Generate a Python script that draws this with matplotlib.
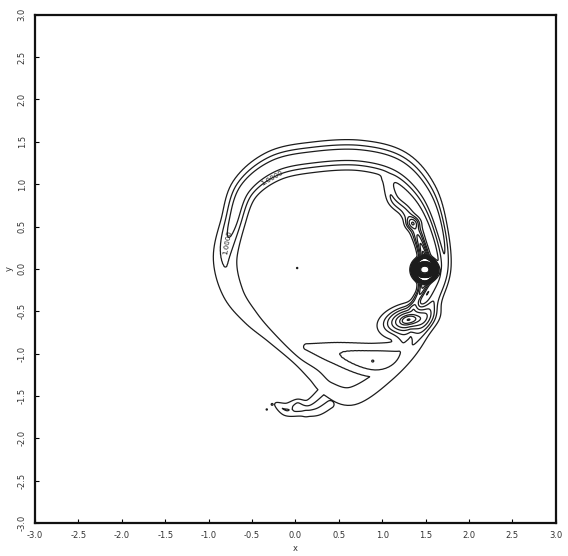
#!/usr/bin/env python3
"""Contour plot of a rolled-up filament with embedded vortices"""

import numpy as np
import matplotlib
matplotlib.use('Agg')
import matplotlib.pyplot as plt

# filament centreline (closed loop) with peak value and half-width along it
band_x = [0.66, 1.05, 1.37, 1.58, 1.72, 1.65, 1.48, 1.18, 0.74, 0.22,
          -0.24, -0.58, -0.72, -0.81, -0.72, -0.52, -0.27, 0.00, 0.21, 0.38]
band_y = [-1.50, -1.24, -0.87, -0.40, 0.00, 0.50, 0.92, 1.22, 1.34, 1.32,
          1.22, 0.95, 0.55, 0.11, -0.28, -0.57, -0.82, -1.07, -1.25, -1.42]
band_amp = [0.40, 0.40, 0.50, 0.70, 0.70, 1.00, 1.00, 1.00, 1.00, 1.00,
            1.00, 1.00, 0.95, 0.55, 0.40, 0.35, 0.30, 0.28, 0.32, 0.35]
band_w = [0.090, 0.080, 0.070, 0.055, 0.045, 0.055, 0.080, 0.100, 0.100, 0.100,
          0.100, 0.090, 0.080, 0.095, 0.100, 0.085, 0.063, 0.052, 0.073, 0.080]

# tongue stripped off the lower vortex
tongue_x = [0.13, 0.45, 0.92, 1.18, 1.26]
tongue_y = [-0.92, -0.99, -1.08, -1.00, -0.83]
tongue_amp = [0.26, 0.45, 0.78, 0.52, 0.45]
tongue_w = [0.050, 0.095, 0.120, 0.095, 0.080]

# necks linking the inner edge of the filament to the vortices
bridge_x = [1.05, 1.12, 1.26, 1.36, 1.44, 1.49]
bridge_y = [1.05, 0.82, 0.68, 0.52, 0.30, 0.12]
bridge_amp = [0.30, 0.55, 0.60, 0.80, 1.60, 2.40]
bridge_w = [0.040, 0.045, 0.045, 0.045, 0.035, 0.035]

neck_x = [1.49, 1.45, 1.40, 1.36]
neck_y = [-0.14, -0.26, -0.36, -0.45]
neck_amp = [2.20, 1.40, 0.90, 0.70]
neck_w = [0.040, 0.030, 0.030, 0.035]

# ragged tail at the bottom of the outer envelope
tail_x = [0.30, 0.15, 0.02, -0.10, -0.22, -0.12, 0.05, 0.25, 0.40]
tail_y = [-1.45, -1.58, -1.56, -1.62, -1.60, -1.70, -1.71, -1.69, -1.60]
tail_amp = [0.30, 0.28, 0.24, 0.28, 0.24, 0.28, 0.25, 0.30, 0.30]
tail_w = [0.050, 0.042, 0.036, 0.042, 0.032, 0.036, 0.042, 0.046, 0.050]

# vortices: centre, peak, widths, tilt (deg), ring radius (0 = solid core)
vort_x = [1.49, 1.30, 1.35, 0.89, 0.02, -0.27, -0.33, -0.05, 0.12]
vort_y = [-0.01, -0.60, 0.54, -1.09, 0.01, -1.60, -1.66, -1.66, -1.71]
vort_amp = [6.0, 2.40, 0.90, 0.06, 0.30, 0.30, 0.30, 0.12, 0.12]
vort_sx = [0.024, 0.165, 0.050, 0.010, 0.008, 0.008, 0.008, 0.020, 0.020]
vort_sy = [0.024, 0.090, 0.045, 0.010, 0.008, 0.008, 0.008, 0.020, 0.020]
vort_tilt = [0.0, 15.0, 0.0, 0.0, 0.0, 0.0, 0.0, 0.0, 0.0]
vort_ring = [0.11, 0.0, 0.0, 0.0, 0.0, 0.0, 0.0, 0.0, 0.0]

levels = [0.2, 0.5, 0.8, 1.2, 1.6] + [2.0 + 0.2*k for k in range(20)]
ticks = [-3.0, -2.5, -2.0, -1.5, -1.0, -0.5, 0.0, 0.5, 1.0, 1.5, 2.0, 2.5, 3.0]
tick_labels = ['%.1f' % t for t in ticks]

##########################################################
def smooth_path(xs, ys, amps, ws, closed, nsub=12):
    """Catmull-Rom resampling of a control polyline"""
    P = np.column_stack([xs, ys, amps, ws]).astype(float)
    n = len(P)
    if closed:
        idx = lambda k: P[k % n]
        nseg = n
    else:
        idx = lambda k: P[min(max(k, 0), n - 1)]
        nseg = n - 1
    out = []
    for i in range(nseg):
        p0, p1, p2, p3 = idx(i - 1), idx(i), idx(i + 1), idx(i + 2)
        for t in np.linspace(0, 1, nsub, endpoint=False):
            out.append(0.5*((2*p1) + (-p0 + p2)*t + (2*p0 - 5*p1 + 4*p2 - p3)*t*t
                            + (-p0 + 3*p1 - 3*p2 + p3)*t**3))
    out.append(idx(nseg))
    return np.array(out)

##########################################################
def tube(X, Y, xs, ys, amps, ws, closed=False):
    """Gaussian ridge following a smoothed polyline"""
    P = smooth_path(xs, ys, amps, ws, closed)
    out = np.zeros_like(X)
    for i in range(len(P) - 1):
        x0, y0, a0, w0 = P[i]
        x1, y1, a1, w1 = P[i + 1]
        dx, dy = x1 - x0, y1 - y0
        L2 = dx*dx + dy*dy
        if L2 == 0:
            continue
        t = np.clip(((X - x0)*dx + (Y - y0)*dy) / L2, 0, 1)
        d2 = (X - x0 - t*dx)**2 + (Y - y0 - t*dy)**2
        a = a0 + (a1 - a0)*t
        w = w0 + (w1 - w0)*t
        out = np.maximum(out, a*np.exp(-d2/(2*w*w)))
    return out

##########################################################
def blobs(X, Y):
    out = np.zeros_like(X)
    for i in range(len(vort_x)):
        th = np.radians(vort_tilt[i])
        u = (X - vort_x[i])*np.cos(th) + (Y - vort_y[i])*np.sin(th)
        v = -(X - vort_x[i])*np.sin(th) + (Y - vort_y[i])*np.cos(th)
        if vort_ring[i] > 0:
            r = np.hypot(u, v)
            out += vort_amp[i]*np.exp(-(r - vort_ring[i])**2/(2*vort_sx[i]**2))
        else:
            out += vort_amp[i]*np.exp(-(u/vort_sx[i])**2/2 - (v/vort_sy[i])**2/2)
    return out

##########################################################
def main():
    xg = np.linspace(-1.4, 2.1, 1000)
    yg = np.linspace(-2.0, 1.8, 1100)
    X, Y = np.meshgrid(xg, yg)
    Z = tube(X, Y, band_x, band_y, band_amp, band_w, closed=True)
    Z = np.maximum(Z, tube(X, Y, tongue_x, tongue_y, tongue_amp, tongue_w))
    Z = Z + tube(X, Y, bridge_x, bridge_y, bridge_amp, bridge_w)
    Z = Z + tube(X, Y, neck_x, neck_y, neck_amp, neck_w)
    Z = np.maximum(Z, tube(X, Y, tail_x, tail_y, tail_amp, tail_w))
    Z = Z + blobs(X, Y)

    fig = plt.figure(figsize=(5.68, 5.56), dpi=100)
    ax = fig.add_axes([0.0616, 0.0594, 0.917, 0.914])
    ax.contour(X, Y, Z, levels=levels, colors='#1c1c1c', linewidths=0.9)

    ax.text(-0.27, 1.07, '1.0000', fontsize=5, rotation=30, color='#222222',
            ha='center', va='center')
    ax.text(-0.78, 0.31, '1.0000', fontsize=5, rotation=80, color='#222222',
            ha='center', va='center')

    ax.set_xlim(-3, 3)
    ax.set_ylim(-3, 3)
    ax.set_xticks(ticks)
    ax.set_xticklabels(tick_labels, fontsize=6, color='#333333')
    ax.set_yticks(ticks)
    ax.set_yticklabels(tick_labels, fontsize=6, color='#333333', rotation=90,
                       va='center')
    ax.tick_params(direction='in', length=3, width=0.8, pad=6)
    ax.set_xlabel('x', fontsize=6, color='#333333', labelpad=3)
    ax.set_ylabel('y', fontsize=6, color='#333333', labelpad=3)
    for s in ax.spines.values():
        s.set_linewidth(1.6)
        s.set_color('#111111')

    fig.savefig('out.png', dpi=100)

##########################################################
if __name__ == "__main__":
    main()
